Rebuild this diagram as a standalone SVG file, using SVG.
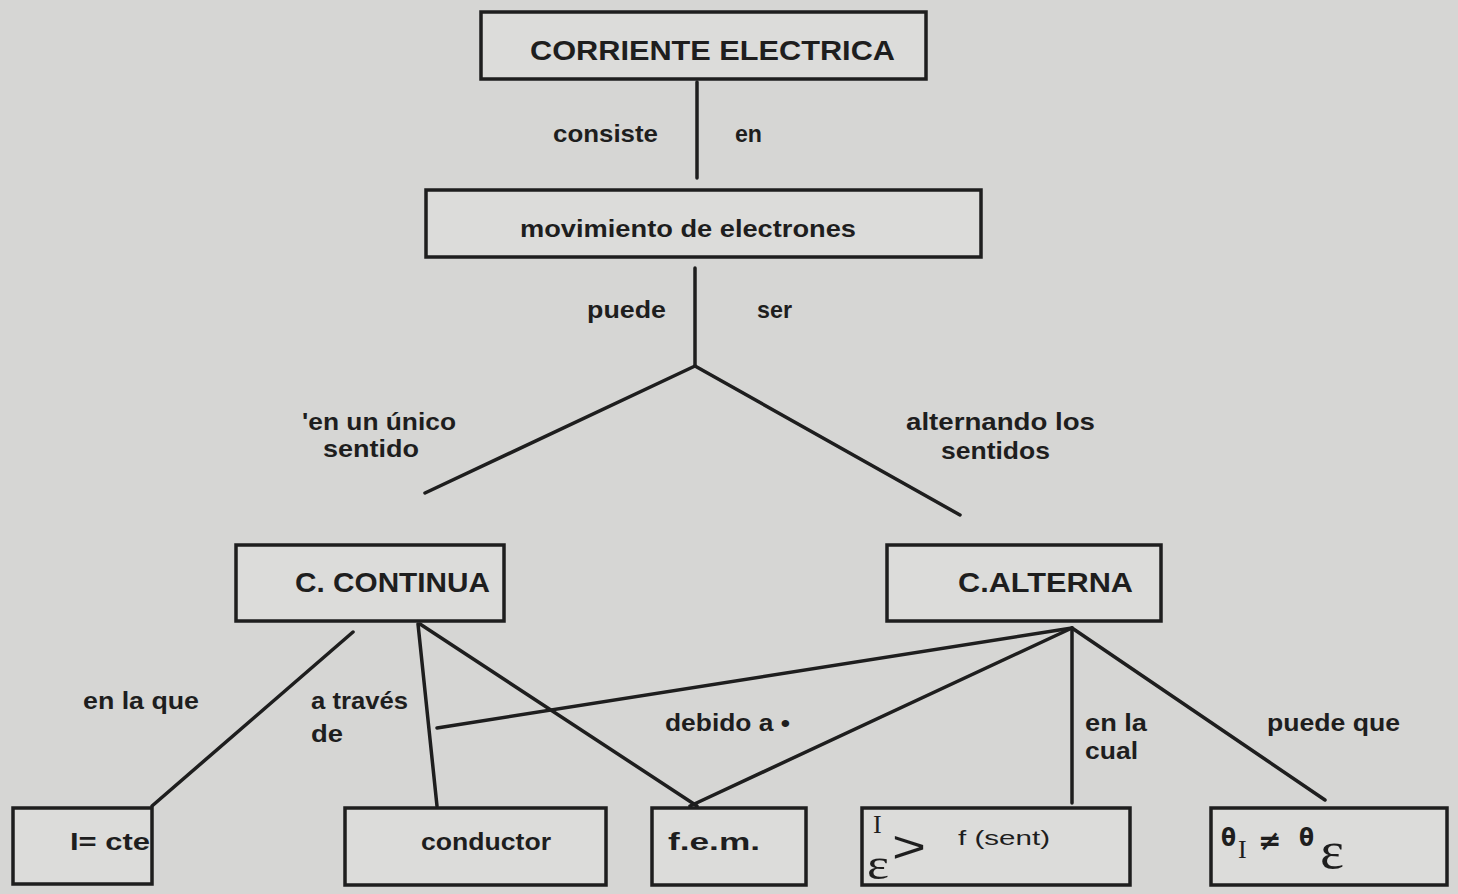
<svg xmlns="http://www.w3.org/2000/svg" width="1458" height="894" viewBox="0 0 1458 894">
<style>
.bg{fill:#d6d6d4}
.box{fill:#dcdcda;stroke:#1e1e1e;stroke-width:3.5}
.ln{stroke:#1e1e1e;stroke-width:3.5;fill:none;stroke-linecap:round}
text{font-family:"Liberation Sans","DejaVu Sans",sans-serif;font-weight:bold;fill:#1e1e1e}
.t{font-size:27px}
.l{font-size:24px}
.serI{font-family:"Liberation Serif",serif;font-weight:normal;font-size:26px}
.eps{font-family:"Liberation Serif",serif;font-weight:normal;font-size:52px}
.eps2{font-family:"Liberation Serif",serif;font-weight:normal;font-size:44px}
.gt{font-family:"Liberation Sans",sans-serif;font-weight:normal;font-size:44px}
.sm{font-size:21px;font-weight:normal}
.th{font-family:"DejaVu Sans",sans-serif;font-weight:bold;font-size:24px}
.ne{font-family:"DejaVu Sans",sans-serif;font-weight:bold;font-size:28px}
</style>
<rect class="bg" x="0" y="0" width="1458" height="894"/>
<g id="connectors">
<line class="ln" x1="697" y1="82" x2="697" y2="178"/>
<line class="ln" x1="695" y1="268" x2="695" y2="366"/>
<line class="ln" x1="695" y1="366" x2="425" y2="493"/>
<line class="ln" x1="695" y1="366" x2="960" y2="515"/>
<line class="ln" x1="353" y1="632" x2="152" y2="806"/>
<line class="ln" x1="418" y1="624" x2="437" y2="806"/>
<line class="ln" x1="420" y1="624" x2="697" y2="806"/>
<line class="ln" x1="437" y1="728" x2="1072" y2="628"/>
<line class="ln" x1="1072" y1="628" x2="690" y2="806"/>
<line class="ln" x1="1072" y1="628" x2="1072" y2="803"/>
<line class="ln" x1="1072" y1="628" x2="1325" y2="800"/>
<text class="l" x="553" y="142" textLength="105" lengthAdjust="spacingAndGlyphs">consiste</text>
<text class="l" x="735" y="142" textLength="27" lengthAdjust="spacingAndGlyphs">en</text>
<text class="l" x="587" y="318" textLength="79" lengthAdjust="spacingAndGlyphs">puede</text>
<text class="l" x="757" y="318" textLength="35" lengthAdjust="spacingAndGlyphs">ser</text>
<text class="l" x="302" y="430" textLength="154" lengthAdjust="spacingAndGlyphs">'en un único</text>
<text class="l" x="323" y="457" textLength="96" lengthAdjust="spacingAndGlyphs">sentido</text>
<text class="l" x="906" y="430" textLength="189" lengthAdjust="spacingAndGlyphs">alternando los</text>
<text class="l" x="941" y="459" textLength="109" lengthAdjust="spacingAndGlyphs">sentidos</text>
<text class="l" x="83" y="709" textLength="116" lengthAdjust="spacingAndGlyphs">en la que</text>
<text class="l" x="311" y="709" textLength="97" lengthAdjust="spacingAndGlyphs">a través</text>
<text class="l" x="311" y="742" textLength="32" lengthAdjust="spacingAndGlyphs">de</text>
<text class="l" x="665" y="731" textLength="125" lengthAdjust="spacingAndGlyphs">debido a •</text>
<text class="l" x="1085" y="731" textLength="62" lengthAdjust="spacingAndGlyphs">en la</text>
<text class="l" x="1085" y="759" textLength="53" lengthAdjust="spacingAndGlyphs">cual</text>
<text class="l" x="1267" y="731" textLength="133" lengthAdjust="spacingAndGlyphs">puede que</text>
</g>
<g id="n-corriente">
<rect class="box" x="481" y="12" width="445" height="67"/>
<text class="t" x="530" y="60" textLength="365" lengthAdjust="spacingAndGlyphs">CORRIENTE ELECTRICA</text>
</g>
<g id="n-movimiento">
<rect class="box" x="426" y="190" width="555" height="67"/>
<text class="l" x="520" y="237" textLength="336" lengthAdjust="spacingAndGlyphs">movimiento de electrones</text>
</g>
<g id="n-continua">
<rect class="box" x="236" y="545" width="268" height="76"/>
<text class="t" x="295" y="592" textLength="195" lengthAdjust="spacingAndGlyphs">C. CONTINUA</text>
</g>
<g id="n-alterna">
<rect class="box" x="887" y="545" width="274" height="76"/>
<text class="t" x="958" y="592" textLength="175" lengthAdjust="spacingAndGlyphs">C.ALTERNA</text>
</g>
<g id="n-icte">
<rect class="box" x="13" y="808" width="139" height="76"/>
<text class="l" x="70" y="850" textLength="80" lengthAdjust="spacingAndGlyphs">I= cte</text>
</g>
<g id="n-conductor">
<rect class="box" x="345" y="808" width="261" height="77"/>
<text class="l" x="421" y="850" textLength="130" lengthAdjust="spacingAndGlyphs">conductor</text>
</g>
<g id="n-fem">
<rect class="box" x="652" y="808" width="154" height="77"/>
<text class="l" x="668" y="850" textLength="92" lengthAdjust="spacingAndGlyphs">f.e.m.</text>
</g>
<g id="n-fsent">
<rect class="box" x="862" y="808" width="268" height="77"/>
<text class="serI" x="873" y="833">I</text>
<text class="eps2" x="867" y="879" textLength="22" lengthAdjust="spacingAndGlyphs">ε</text>
<text class="gt" x="892" y="862" textLength="34" lengthAdjust="spacingAndGlyphs">&gt;</text>
<text class="sm" x="958" y="845" textLength="92" lengthAdjust="spacingAndGlyphs">f (sent)</text>
</g>
<g id="n-theta">
<rect class="box" x="1211" y="808" width="236" height="77"/>
<text class="th" x="1221" y="846" textLength="15" lengthAdjust="spacingAndGlyphs">θ</text>
<text class="serI" x="1238" y="858">I</text>
<text class="ne" x="1258" y="850">≠</text>
<text class="th" x="1299" y="846" textLength="15" lengthAdjust="spacingAndGlyphs">θ</text>
<text class="eps" x="1320" y="868" textLength="24" lengthAdjust="spacingAndGlyphs">ε</text>
</g>
</svg>
